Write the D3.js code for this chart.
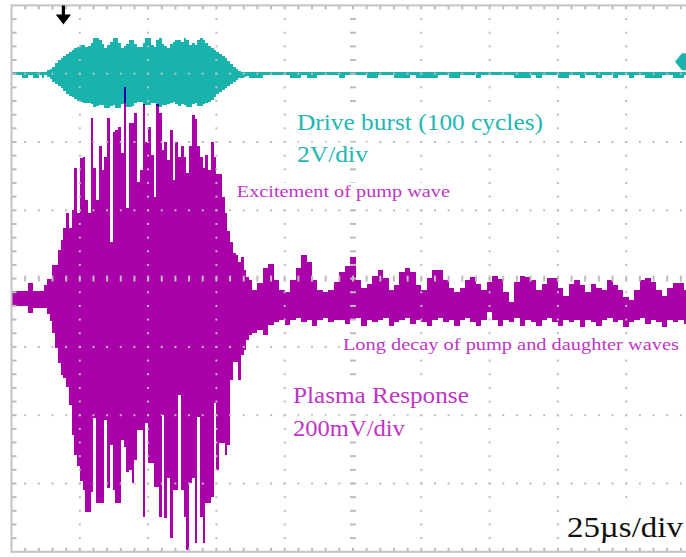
<!DOCTYPE html>
<html>
<head>
<meta charset="utf-8">
<script src="https://cdn.jsdelivr.net/npm/d3@7/dist/d3.min.js"></script>
<style>
  html, body { margin: 0; padding: 0; background: #fff; }
  svg { display: block; }
  text { font-family: "Liberation Serif", "DejaVu Serif", serif; }
</style>
</head>
<body>
<svg id="scope" width="686" height="557"></svg>
<script>
// ---- acquisition: 25 µs/div, 10 divisions; per-sample max/min of each channel ----
const sampleUs = [
  0, 2, 4, 6, 8,
  10, 11, 12, 13, 14, 15, 16, 17, 18, 19,
  20, 21, 22, 23, 24, 25, 26, 27, 28, 29,
  30, 31, 32, 33, 34, 35, 36, 37, 38, 39,
  40, 41, 42, 43, 44, 45, 46, 47, 48, 49,
  50, 51, 52, 53, 54, 55, 56, 57, 58, 59,
  60, 61, 62, 63, 64, 65, 66, 67, 68, 69,
  70, 71, 72, 73, 74, 75, 76, 77, 78, 79,
  80, 81, 82, 83, 84, 85, 86, 87, 88,
  90, 92, 94, 96, 98, 100, 102, 104, 106, 108,
  110, 112, 114, 116, 118, 120, 122, 124, 126, 128,
  130, 132, 134, 136, 138, 140, 142, 144, 146, 148,
  150, 152, 154, 156, 158, 160, 162, 164, 166, 168,
  170, 172, 174, 176, 178, 180, 182, 184, 186, 188,
  190, 192, 194, 196, 198, 200, 202, 204, 206, 208,
  210, 212, 214, 216, 218, 220, 222, 224, 226, 228,
  230, 232, 234, 236, 238, 240, 242, 244, 246, 248,
  250
];

// Channel 1: drive burst (V), 2 V/div
const driveHi = [
  0.06, 0.06, 0.06, 0.06, 0.06,
  0.06, 0.06, 0.06, 0.12, 0.15, 0.20, 0.32, 0.41, 0.47, 0.53,
  0.59, 0.64, 0.70, 0.76, 0.79, 0.85, 0.85, 0.79, 0.82, 0.91,
  1.05, 1.05, 1.00, 0.88, 0.76, 0.85, 0.94, 1.05, 1.05, 0.91,
  0.76, 0.82, 0.88, 1.00, 1.00, 0.88, 0.79, 0.79, 0.91, 1.05,
  1.05, 0.85, 0.79, 1.00, 1.05, 0.88, 0.82, 0.76, 0.88, 0.94,
  1.00, 1.00, 0.94, 1.05, 1.00, 0.85, 0.91, 0.85, 1.00, 1.05,
  1.00, 0.91, 0.82, 0.76, 0.70, 0.64, 0.59, 0.53, 0.47, 0.38,
  0.29, 0.20, 0.15, 0.09, 0.06, 0.06, 0.06, 0.06, 0.06,
  0.06, 0.06, 0.06, 0.06, 0.06, 0.06, 0.06, 0.06, 0.06, 0.06,
  0.06, 0.06, 0.06, 0.06, 0.06, 0.06, 0.06, 0.06, 0.06, 0.06,
  0.06, 0.06, 0.06, 0.06, 0.06, 0.06, 0.06, 0.06, 0.06, 0.06,
  0.06, 0.06, 0.06, 0.06, 0.06, 0.06, 0.06, 0.06, 0.06, 0.06,
  0.06, 0.06, 0.06, 0.06, 0.06, 0.06, 0.06, 0.06, 0.06, 0.06,
  0.06, 0.06, 0.06, 0.06, 0.06, 0.06, 0.06, 0.06, 0.06, 0.06,
  0.06, 0.06, 0.06, 0.06, 0.06, 0.06, 0.06, 0.06, 0.06, 0.06,
  0.06, 0.06, 0.06, 0.06, 0.06, 0.06, 0.06, 0.06, 0.06, 0.06,
  0.06
];
const driveLo = [
  -0.03, -0.03, -0.12, -0.03, -0.12,
  -0.03, -0.12, -0.03, -0.09, -0.15, -0.23, -0.29, -0.35, -0.41, -0.50,
  -0.59, -0.64, -0.67, -0.73, -0.79, -0.82, -0.85, -0.85, -0.85, -0.88,
  -0.97, -0.94, -0.91, -0.91, -1.00, -1.00, -0.94, -0.91, -1.00, -1.00,
  -0.88, -0.85, -0.97, -0.97, -0.94, -0.85, -0.82, -0.82, -0.91, -0.91,
  -0.91, -0.85, -0.85, -0.94, -0.97, -0.91, -0.91, -0.88, -0.85, -0.82,
  -0.88, -0.94, -0.88, -0.91, -0.97, -0.97, -0.88, -0.85, -0.94, -0.94,
  -0.88, -0.85, -0.82, -0.76, -0.67, -0.59, -0.53, -0.47, -0.41, -0.35,
  -0.29, -0.23, -0.18, -0.12, -0.12, -0.09, -0.06, -0.12, -0.12,
  -0.12, -0.03, -0.03, -0.03, -0.03, -0.03, -0.12, -0.12, -0.03, -0.12,
  -0.12, -0.03, -0.03, -0.03, -0.03, -0.12, -0.03, -0.03, -0.03, -0.03,
  -0.12, -0.12, -0.03, -0.03, -0.03, -0.12, -0.12, -0.12, -0.03, -0.12,
  -0.12, -0.12, -0.12, -0.03, -0.03, -0.12, -0.12, -0.03, -0.03, -0.03,
  -0.12, -0.03, -0.03, -0.03, -0.03, -0.03, -0.03, -0.12, -0.12, -0.12,
  -0.03, -0.12, -0.03, -0.03, -0.03, -0.12, -0.12, -0.03, -0.03, -0.12,
  -0.03, -0.03, -0.12, -0.03, -0.03, -0.12, -0.03, -0.03, -0.12, -0.03,
  -0.03, -0.12, -0.12, -0.12, -0.03, -0.03, -0.12, -0.12, -0.03, -0.03,
  -0.03
];

// Channel 2: plasma response (mV), 200 mV/div
const plasmaHi = [
  15, 15, 15, 38, 15,
  15, 15, 32, 50, 50, 91, 91, 135, 164, 199,
  243, 199, 252, 375, 243, 404, 407, 281, 243, 519,
  375, 281, 437, 369, 407, 519, 158, 478, 486, 495,
  419, 612, 258, 507, 507, 536, 334, 369, 560, 451,
  495, 413, 290, 560, 536, 428, 451, 398, 486, 340,
  451, 407, 437, 407, 360, 437, 530, 516, 437, 407,
  375, 413, 369, 451, 407, 355, 355, 290, 243, 188,
  158, 126, 120, 100, 114, 76, 56, 47, 18,
  38, 82, 94, 47, 18, 12, 47, 82, 120, 100,
  47, 18, 12, 18, 41, 70, 88, 114, 47, 23,
  35, 59, 76, 53, 18, 32, 70, 82, 70, 32,
  18, 53, 76, 76, 47, 23, 12, 23, 47, 56,
  35, 18, 41, 59, 50, 12, -18, 41, 59, 56,
  47, 18, 35, 53, 53, 23, 0, 35, 47, 32,
  12, 35, 23, 18, 47, 32, 18, -3, -12, 18,
  47, 53, 41, 18, 0, 23, 38, 38, 18, 18,
  18
];
const plasmaLo = [
  -29, -29, -29, -50, -35,
  -35, -35, -35, -53, -73, -108, -152, -196, -231, -240,
  -267, -319, -407, -466, -498, -542, -568, -633, -633, -574,
  -357, -607, -607, -607, -363, -563, -437, -568, -607, -607,
  -422, -442, -516, -510, -548, -481, -393, -393, -648, -372,
  -489, -489, -560, -560, -648, -349, -650, -533, -709, -568,
  -568, -290, -568, -648, -744, -548, -533, -724, -355, -648,
  -724, -607, -607, -589, -314, -510, -431, -431, -466, -437,
  -246, -193, -193, -246, -173, -158, -129, -114, -108,
  -100, -114, -85, -76, -70, -85, -70, -64, -76, -70,
  -88, -70, -64, -76, -70, -70, -82, -70, -64, -88,
  -70, -76, -70, -64, -88, -76, -70, -64, -82, -70,
  -76, -88, -70, -64, -76, -70, -88, -70, -64, -76,
  -88, -70, -47, -70, -88, -70, -76, -64, -88, -70,
  -76, -88, -70, -64, -76, -88, -70, -76, -70, -91,
  -70, -76, -88, -70, -64, -76, -70, -91, -76, -70,
  -64, -82, -70, -76, -91, -70, -76, -70, -82, -70,
  -70
];

// screen: 10 x 8 divisions, 5 minor steps per division
const xDivisions = 10, yDivisions = 8, minorPerDiv = 5;
const usPerDiv = 25;
const voltsPerDiv = 2, driveOffsetDiv = 3;
const mvPerDiv = 200, plasmaOffsetDiv = -0.25;
const triggerTimeUs = 19;     // trigger position marker
const triggerLevelV = 0.35;   // trigger level marker on channel 1

const labels = [
  { text: "Drive burst (100 cycles)", ch: "drive", t: 104.5, div: 2.17, size: 23, len: 246 },
  { text: "2V/div", ch: "drive", t: 104.5, div: 1.70, size: 23, len: 71 },
  { text: "Excitement of pump wave", ch: "plasma", t: 82.5, div: 1.2, size: 16, len: 213 },
  { text: "Long decay of pump and daughter waves", ch: "plasma", t: 121.3, div: -1.04, size: 16, len: 336 },
  { text: "Plasma Response", ch: "plasma", t: 103, div: -1.82, size: 23, len: 176 },
  { text: "200mV/div", ch: "plasma", t: 103, div: -2.3, size: 23, len: 112 },
  { text: "25µs/div", ch: "time", t: 203.3, div: -3.78, size: 30, len: 116 }
];

const colors = { drive: "#19b3ae", plasma: "#a900a9", driveText: "#22b7b2",
                 plasmaText: "#c035c5", time: "#111111", grid: "#bdbdbd", frame: "#c4c4c4" };

// ---- geometry ----
const svg = d3.select("#scope");
const W = 686, H = 557;
const scrLeft = 11.5, scrTop = 5.4, divPx = 68.3;
const scrRight = scrLeft + xDivisions * divPx, scrBottom = scrTop + yDivisions * divPx;

const x = d3.scaleLinear().domain([0, xDivisions * usPerDiv]).range([scrLeft, scrRight]);
const yDiv = d3.scaleLinear().domain([-yDivisions / 2, yDivisions / 2]).range([scrBottom, scrTop]);
const yDrive = d3.scaleLinear()
  .domain([(-yDivisions / 2 - driveOffsetDiv) * voltsPerDiv, (yDivisions / 2 - driveOffsetDiv) * voltsPerDiv])
  .range([scrBottom, scrTop]);
const yPlasma = d3.scaleLinear()
  .domain([(-yDivisions / 2 - plasmaOffsetDiv) * mvPerDiv, (yDivisions / 2 - plasmaOffsetDiv) * mvPerDiv])
  .range([scrBottom, scrTop]);

svg.append("rect").attr("width", W).attr("height", H).attr("fill", "#fff");

svg.append("clipPath").attr("id", "screen")
  .append("rect").attr("x", scrLeft).attr("y", scrTop)
  .attr("width", scrRight - scrLeft).attr("height", scrBottom - scrTop);

const traces = svg.append("g").attr("clip-path", "url(#screen)");

function envelope(hi, lo, yScale) {
  const rows = sampleUs.map((t, i) => ({ t, hi: hi[i], lo: lo[i] }));
  return d3.area()
    .x(d => x(d.t))
    .y0(d => yScale(d.lo))
    .y1(d => yScale(d.hi))
    .curve(d3.curveStepAfter)(rows);
}

traces.append("path")
  .attr("d", envelope(driveHi, driveLo, yDrive))
  .attr("fill", colors.drive)
  .attr("shape-rendering", "crispEdges");

traces.append("path")
  .attr("d", envelope(plasmaHi, plasmaLo, yPlasma))
  .attr("fill", colors.plasma)
  .attr("shape-rendering", "crispEdges")
  .style("mix-blend-mode", "darken");

// ---- graticule ----
const grid = svg.append("g").attr("clip-path", "url(#screen)").attr("fill", colors.grid);
const minorX = d3.range(1, xDivisions * minorPerDiv).map(j => scrLeft + j * divPx / minorPerDiv);
const minorY = d3.range(1, yDivisions * minorPerDiv).map(j => scrTop + j * divPx / minorPerDiv);

for (let k = 1; k < xDivisions; k++) {
  const gx = scrLeft + k * divPx;
  if (k === xDivisions / 2) {
    minorY.forEach(py => grid.append("rect").attr("x", gx - 3).attr("y", py - 1).attr("width", 6).attr("height", 2));
  } else {
    minorY.forEach(py => grid.append("rect").attr("x", gx - 1).attr("y", py - 1).attr("width", 2).attr("height", 2));
  }
}
for (let m = 1; m < yDivisions; m++) {
  const gy = scrTop + m * divPx;
  if (m === yDivisions / 2) {
    minorX.forEach(px => grid.append("rect").attr("x", px - 1).attr("y", gy - 3).attr("width", 2).attr("height", 6));
  } else {
    minorX.forEach(px => grid.append("rect").attr("x", px - 1).attr("y", gy - 1).attr("width", 2).attr("height", 2));
  }
}
// frame ticks
minorX.forEach(px => {
  grid.append("rect").attr("x", px - 1).attr("y", scrTop).attr("width", 2).attr("height", 4);
  grid.append("rect").attr("x", px - 1).attr("y", scrBottom - 4).attr("width", 2).attr("height", 4);
});
minorY.forEach(py => {
  grid.append("rect").attr("x", scrLeft).attr("y", py - 1).attr("width", 5).attr("height", 2);
});

svg.append("rect")
  .attr("x", scrLeft).attr("y", scrTop).attr("width", scrRight - scrLeft).attr("height", scrBottom - scrTop)
  .attr("fill", "none").attr("stroke", colors.frame).attr("stroke-width", 2);

// ---- annotations ----
const notes = svg.append("g");
labels.forEach(l => {
  const g = notes.append("g");
  const fill = l.ch === "drive" ? colors.driveText : l.ch === "plasma" ? colors.plasmaText : colors.time;
  const t = g.append("text")
    .attr("x", x(l.t)).attr("y", yDiv(l.div))
    .attr("font-size", l.size)
    .attr("fill", fill)
    .attr("textLength", l.len)
    .attr("lengthAdjust", "spacingAndGlyphs")
    .text(l.text);
  const b = t.node().getBBox();
  g.insert("rect", "text")
    .attr("x", b.x - 3).attr("y", b.y).attr("width", b.width + 6).attr("height", b.height)
    .attr("fill", "#fff");
});

// trigger position (top) and trigger level (right edge) markers
const tx = x(triggerTimeUs);
svg.append("path")
  .attr("d", `M${tx - 1.6},${scrTop} h3.2 v9 h6 l-7.6,10 l-7.6,-10 h6 z`)
  .attr("fill", "#000");

const ty = yDrive(triggerLevelV);
svg.append("path")
  .attr("d", `M${scrRight - 19.5},${ty} l7,-8.5 h13 v17 h-13 z`)
  .attr("fill", colors.drive);
</script>
</body>
</html>
